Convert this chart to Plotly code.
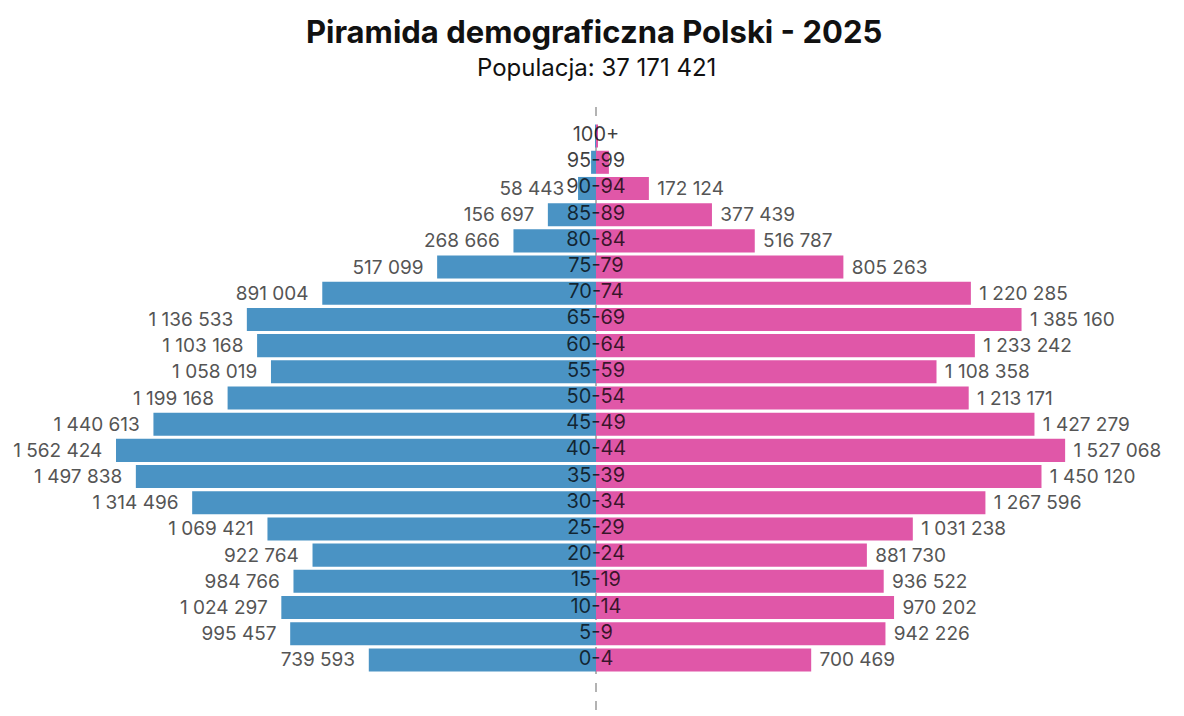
import plotly.graph_objects as go

# dane - piramida wieku Polski 2025
age_groups = ['0-4', '5-9', '10-14', '15-19', '20-24', '25-29', '30-34', '35-39',
              '40-44', '45-49', '50-54', '55-59', '60-64', '65-69', '70-74',
              '75-79', '80-84', '85-89', '90-94', '95-99', '100+']
male = [739593, 995457, 1024297, 984766, 922764, 1069421, 1314496, 1497838,
        1562424, 1440613, 1199168, 1058019, 1103168, 1136533, 891004,
        517099, 268666, 156697, 58443, 16000, 1300]
female = [700469, 942226, 970202, 936522, 881730, 1031238, 1267596, 1450120,
          1527068, 1427279, 1213171, 1108358, 1233242, 1385160, 1220285,
          805263, 516787, 377439, 172124, 42000, 5376]
# etykiety ukryte dla dwóch najstarszych grup
labelled = [True] * 19 + [False, False]

total = sum(male) + sum(female)


def fmt(v):
    return f'{v:,}'.replace(',', ' ')


nb = '\u00a0'
fig = go.Figure()
fig.add_trace(go.Bar(
    y=age_groups, x=[-v for v in male], orientation='h', name='Mężczyźni',
    marker=dict(color='#4a93c4', line=dict(width=0)),
    text=[fmt(v) + nb * 2 if s else '' for v, s in zip(male, labelled)],
    textposition='outside', cliponaxis=False,
    textfont=dict(family='Inter', size=19, color='#555555'),
    hoverinfo='skip'))
fig.add_trace(go.Bar(
    y=age_groups, x=female, orientation='h', name='Kobiety',
    marker=dict(color='#e057a8', line=dict(width=0)),
    text=[nb + fmt(v) if s else '' for v, s in zip(female, labelled)],
    textposition='outside', cliponaxis=False,
    textfont=dict(family='Inter', size=19, color='#555555'),
    hoverinfo='skip'))
# podpisy grup wieku na środku
fig.add_trace(go.Scatter(
    y=age_groups, x=[0] * len(age_groups), mode='text', text=age_groups,
    textposition='middle center', cliponaxis=False,
    textfont=dict(family='Inter', size=20, color='rgba(0,0,0,0.75)'),
    hoverinfo='skip', showlegend=False))

fig.add_shape(type='line', xref='x', yref='paper', x0=0, x1=0, y0=-0.1, y1=1.036,
              layer='below', line=dict(color='#9a9a9a', width=1.5, dash='dash'))

fig.update_layout(
    width=1184, height=716,
    margin=dict(l=0, r=8, t=115, b=51),
    paper_bgcolor='white', plot_bgcolor='white',
    barmode='overlay', bargap=0.12, showlegend=False,
    title=dict(text='<b>Piramida demograficzna Polski - 2025</b>', x=0.495, xanchor='center',
               y=0.966, yanchor='middle',
               font=dict(family='Inter', size=31, color='#111111')),
    xaxis=dict(range=[-1914000, 1914000], visible=False, fixedrange=True),
    yaxis=dict(visible=False, fixedrange=True, range=[-0.5, 20.5]),
)
fig.add_annotation(text=f'Populacja: {fmt(total)}', xref='paper', yref='paper',
                   x=0.5, y=1, yshift=56, xanchor='center', yanchor='middle', showarrow=False,
                   font=dict(family='Inter', size=24, color='#111111'))

fig.write_html('out.html')
